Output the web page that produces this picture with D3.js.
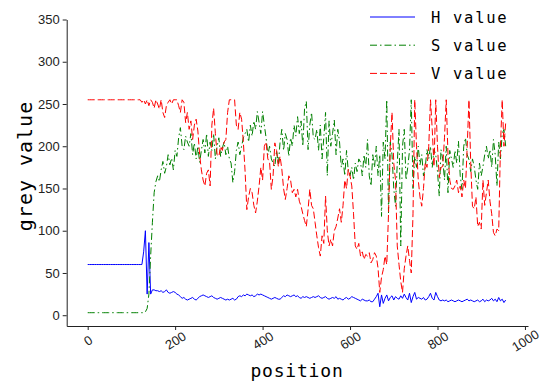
<!DOCTYPE html>
<html><head><meta charset="utf-8">
<script src="https://cdn.jsdelivr.net/npm/d3@7"></script>
<style>
html,body{margin:0;padding:0;background:#fff;}
svg{display:block;}
.tick text{font-family:"Liberation Sans",Arial,sans-serif;font-size:13px;fill:#222;}
</style></head>
<body>
<svg id="chart" width="541" height="383"></svg>
<script>
const positions = d3.range(0, 960, 4);
const hValues = [
60,60,60,60,60,60,60,60,60,60,
60,60,60,60,60,60,60,60,60,60,
60,60,60,60,60,60,60,60,60,60,
60,60,75,100,25,86,25,30,30,29,
29,28,29,27,28,30,27,26,27,28,
27,25,24,22,20,21,19,18,19,20,
21,19,18,20,22,23,24,23,22,21,
22,23,21,20,19,20,21,20,19,18,
19,18,19,20,18,19,22,23,22,24,
23,25,24,23,24,22,23,25,24,25,
24,23,22,21,20,19,20,21,20,19,
19,21,23,22,24,23,22,23,24,22,
23,21,20,22,21,22,21,20,21,22,
21,22,23,21,20,21,22,20,19,20,
21,20,22,19,20,19,18,20,21,19,
20,22,21,20,19,18,17,19,18,17,
17,18,16,16,19,22,26,10,24,14,
20,24,17,21,23,18,22,20,19,23,
20,25,21,18,26,15,22,27,19,21,
20,19,21,18,19,22,26,20,18,27,
22,18,17,18,17,18,16,17,18,17,
16,17,18,17,16,17,18,19,17,18,
17,16,17,18,16,17,19,16,18,17,
18,20,17,19,16,21,17,19,15,18];
const sValues = [
3,3,3,3,3,3,3,3,3,3,
3,3,3,3,3,3,3,3,3,3,
3,3,3,3,3,3,3,3,3,3,
3,3,3,4,8,25,70,110,145,158,
165,158,172,182,168,176,190,178,186,172,
195,188,210,222,200,196,212,205,200,215,
190,204,185,200,181,195,208,192,215,188,
205,195,215,185,200,210,188,198,205,190,
200,185,180,157,170,195,205,190,200,210,
215,220,205,225,212,230,220,241,228,215,
241,225,210,190,200,185,180,176,195,178,
205,220,195,215,208,188,210,200,225,212,
235,215,230,200,245,253,196,225,240,210,
208,220,195,225,185,210,240,165,230,200,
215,231,190,220,205,175,185,165,195,170,
165,175,160,180,170,185,181,165,190,175,
208,165,153,190,175,200,165,190,117,205,
185,255,121,205,190,150,129,180,220,82,
200,220,160,175,195,255,150,188,175,200,
178,190,165,175,196,185,200,175,196,190,
170,141,196,185,160,200,145,195,185,175,
195,180,206,165,149,200,210,190,184,170,
185,176,160,149,180,165,176,190,200,185,
196,175,208,190,153,205,185,215,220,200];
const vValues = [
255,255,255,255,255,255,255,255,255,255,
255,255,255,255,255,255,255,255,255,255,
255,255,255,255,255,255,255,255,255,255,
255,252,255,250,255,248,255,252,245,255,
250,244,255,240,234,248,252,255,250,255,
255,255,248,240,255,252,228,240,220,230,
208,225,232,218,190,172,160,153,168,172,
153,225,245,215,190,188,200,195,205,208,
240,255,255,255,255,225,220,240,232,205,
170,125,140,150,145,130,121,135,153,175,
160,200,205,185,181,149,165,204,195,176,
188,173,150,137,150,165,160,145,149,140,
149,135,129,120,112,105,125,149,130,126,
110,94,80,70,94,85,141,100,82,90,
82,100,105,115,126,110,130,160,150,173,
165,153,120,82,78,85,70,75,66,72,
70,74,62,66,74,70,56,27,45,54,
70,60,120,200,240,180,160,82,60,40,
27,55,70,82,65,50,120,255,200,160,
140,129,150,181,175,200,255,220,176,255,
200,163,175,176,210,255,190,160,150,149,
153,160,145,153,140,160,150,200,255,180,
129,126,140,105,110,102,160,130,145,160,
135,120,98,94,102,100,200,255,200,228];
const xTicks = [0,200,400,600,800,1000];
const yTicks = [0,50,100,150,200,250,300,350];
const seriesNames = ["H value","S value","V value"];
const seriesColors = ["#0000ff","#008000","#ff0000"];
const seriesDash = [null,"7,3,1.5,3","7,3"];
const seriesValues = [hValues, sValues, vValues];

const svg = d3.select("#chart");
const x = d3.scaleLinear().domain([-48, 1007]).range([66.7, 528]);
const y = d3.scaleLinear().domain([-12.75, 350]).range([326, 19.5]);

// axes
const xAxis = svg.append("g").attr("transform", `translate(0,${y(-12.75)})`)
  .call(d3.axisBottom(x).tickValues(xTicks).tickSize(4).tickSizeOuter(0).tickFormat(d3.format("d")));
xAxis.select(".domain").attr("stroke","#222");
xAxis.selectAll(".tick line").attr("stroke","#222");
xAxis.selectAll(".tick text")
  .attr("text-anchor","middle").attr("dy",null).attr("y",null)
  .attr("dominant-baseline","central")
  .attr("transform","translate(0,14.5) rotate(-32)");

const yAxis = svg.append("g").attr("transform", `translate(${x(-48)},0)`)
  .call(d3.axisLeft(y).tickValues(yTicks).tickSize(4).tickSizeOuter(0));
yAxis.select(".domain").attr("stroke","#222");
yAxis.selectAll(".tick line").attr("stroke","#222");
yAxis.selectAll(".tick text").attr("x",-7);

// lines
const line = d3.line().x((d,i)=>x(positions[i])).y(d=>y(d));
seriesValues.forEach((vals,k)=>{
  svg.append("path").datum(vals)
    .attr("d", line)
    .attr("fill","none")
    .attr("stroke", seriesColors[k])
    .attr("stroke-width",1)
    .attr("stroke-dasharray", seriesDash[k]);
});

// legend
const leg = svg.append("g");
seriesNames.forEach((n,k)=>{
  const yy = 17 + k*28.2;
  leg.append("line").attr("x1",370).attr("x2",415).attr("y1",yy).attr("y2",yy)
    .attr("stroke",seriesColors[k]).attr("stroke-width",1)
    .attr("stroke-dasharray",seriesDash[k]);
  leg.append("text").attr("x",431).attr("y",yy+5.5)
    .attr("font-family","DejaVu Sans Mono, monospace").attr("font-size",15.5)
    .attr("letter-spacing",1.7).attr("fill","#000").text(n);
});

// axis labels
svg.append("text").attr("x",297).attr("y",377).attr("text-anchor","middle")
  .attr("font-family","DejaVu Sans Mono, monospace").attr("font-size",18)
  .attr("letter-spacing",0.8).attr("fill","#000").text("position");
svg.append("text").attr("transform","translate(32,166) rotate(-90)").attr("text-anchor","middle")
  .attr("font-family","DejaVu Sans Mono, monospace").attr("font-size",20)
  .attr("letter-spacing",1.0).attr("fill","#000").text("grey value");
</script>
</body></html>
